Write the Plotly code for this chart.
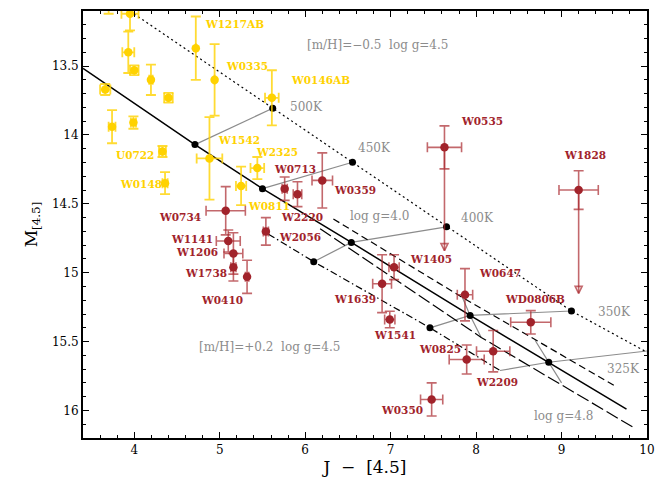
import plotly.graph_objects as go

# ---- observed brown dwarfs: J-[4.5] colour and absolute [4.5] magnitude ----
# warmer sample (gold)
gold_names = ["", "", "", "", "", "", "", "", "", "U0722", "W1217AB", "W0335",
              "W0146AB", "W1542", "W2325", "W0811", "W0148"]
gold_x = [3.70, 3.95, 3.93, 4.00, 4.195, 3.66, 4.40, 3.74, 3.99, 4.33, 4.72, 4.94,
          5.61, 4.88, 5.44, 5.25, 4.36]
gold_y = [12.98, 13.12, 13.40, 13.53, 13.60, 13.67, 13.73, 13.94, 13.91, 14.12, 13.37, 13.60,
          13.73, 14.17, 14.24, 14.37, 14.35]
gold_xerr = [0.00, 0.10, 0.07, 0.05, 0.02, 0.06, 0.05, 0.04, 0.03, 0.04, 0.00, 0.00,
             0.08, 0.15, 0.08, 0.06, 0.03]
gold_yerr = [0.14, 0.12, 0.15, 0.035, 0.11, 0.04, 0.035, 0.12, 0.045, 0.04, 0.23, 0.26,
             0.20, 0.30, 0.08, 0.14, 0.08]

# Y dwarfs and late T (dark red)
red_names = ["W0713", "W2220", "W0359", "W0734", "W1141", "W1206", "W1738", "W0410",
             "W2056", "W0535", "W1405", "W1639", "W0647", "W1828", "WD0806B", "W2209",
             "W1541", "W0825", "W0350"]
red_x = [5.76, 5.91, 6.20, 5.07, 5.10, 5.16, 5.16, 5.32,
         5.54, 7.63, 7.04, 6.90, 7.87, 9.20, 8.64, 8.20,
         6.99, 7.89, 7.48]
red_y = [14.39, 14.43, 14.33, 14.55, 14.77, 14.86, 14.96, 15.03,
         14.70, 14.09, 14.96, 15.08, 15.16, 14.40, 15.36, 15.57,
         15.34, 15.63, 15.92]
red_xerr = [0.03, 0.05, 0.12, 0.23, 0.14, 0.11, 0.03, 0.02,
            0.03, 0.20, 0.06, 0.11, 0.09, 0.23, 0.235, 0.195,
            0.06, 0.205, 0.13]
red_yerr = [0.085, 0.09, 0.20, 0.175, 0.08, 0.15, 0.10, 0.12,
            0.10, 0.156, 0.09, 0.21, 0.19, 0.14, 0.085, 0.15,
            0.06, 0.105, 0.12]
# magnitudes that are upper limits: (name, arrow tip)
limit_names = ["W0535", "W1828"]
limit_tip_y = [14.84, 15.15]

# ---- model sequences ----
# [m/H]=-0.5, log g=4.5
met_lo_x = [3.90, 5.62, 6.554, 7.654, 9.116, 9.99, 10.10]
met_lo_y = [13.08, 13.806, 14.198, 14.667, 15.278, 15.574, 15.63]
# [m/H]=0, log g=4.5
solar_x = [3.40, 4.71, 5.50, 6.54, 7.93, 8.85, 9.76]
solar_y = [13.517, 14.07, 14.39, 14.78, 15.31, 15.65, 15.99]
# [m/H]=+0.2, log g=4.5
met_hi_x = [5.57, 6.10, 7.46, 8.28]
met_hi_y = [14.72, 14.92, 15.40, 15.71]
# log g=4.0 and log g=4.8 at solar metallicity
lowg_x = [6.33, 7.84, 9.62]
lowg_y = [14.61, 15.18, 15.82]
highg_x = [6.175, 8.06, 9.86]
highg_y = [14.68, 15.47, 16.13]

# temperature nodes (black dots)
teff_labels = ["500K", "450K", "400K", "350K", "325K"]
node_x = [5.62, 6.554, 7.654, 9.116, 4.71, 5.50, 6.54, 7.93, 8.85, 6.10, 7.46]
node_y = [13.806, 14.198, 14.667, 15.278, 14.07, 14.39, 14.78, 15.31, 15.65, 14.92, 15.40]

# iso-temperature connectors
iso_metal = [
    ([5.62, 4.71], [13.806, 14.07]),
    ([6.554, 5.50], [14.198, 14.39]),
    ([7.654, 6.54, 6.10], [14.667, 14.78, 14.92]),
    ([9.116, 7.93, 7.46], [15.278, 15.31, 15.40]),
    ([10.05, 8.85, 8.28], [15.565, 15.65, 15.71]),
]
iso_grav = [
    ([7.84, 7.93, 8.06], [15.18, 15.31, 15.47]),
    ([8.69, 8.85, 9.00], [15.49, 15.65, 15.80]),
]

GOLD = "#FFD200"
GOLD_BAR = "rgba(255,210,0,0.8)"
RED = "#A1232B"
RED_BAR = "rgba(170,40,45,0.7)"
GREY = "#8C8C8C"
FONT = "DejaVu Serif"

fig = go.Figure()

for xs, ys in iso_metal + iso_grav:
    fig.add_trace(go.Scatter(x=xs, y=ys, mode="lines",
                             line=dict(color=GREY, width=1.2), hoverinfo="skip"))

fig.add_trace(go.Scatter(x=met_lo_x, y=met_lo_y, mode="lines",
                         line=dict(color="black", width=1.2, dash="2px,3px")))
fig.add_trace(go.Scatter(x=solar_x, y=solar_y, mode="lines",
                         line=dict(color="black", width=1.5)))
fig.add_trace(go.Scatter(x=met_hi_x, y=met_hi_y, mode="lines",
                         line=dict(color="black", width=1.2, dash="7px,3px,1.5px,3px")))
fig.add_trace(go.Scatter(x=lowg_x, y=lowg_y, mode="lines",
                         line=dict(color="black", width=1.2, dash="7px,4px")))
fig.add_trace(go.Scatter(x=highg_x, y=highg_y, mode="lines",
                         line=dict(color="black", width=1.2, dash="13px,4px")))
fig.add_trace(go.Scatter(x=node_x, y=node_y, mode="markers",
                         marker=dict(color="black", size=7)))

fig.add_trace(go.Scatter(
    x=gold_x, y=gold_y, mode="markers",
    marker=dict(color=GOLD, size=8.5),
    error_x=dict(type="data", array=gold_xerr, color=GOLD_BAR, thickness=1.8, width=5),
    error_y=dict(type="data", array=gold_yerr, color=GOLD_BAR, thickness=1.8, width=5),
))
fig.add_trace(go.Scatter(
    x=red_x, y=red_y, mode="markers",
    marker=dict(color=RED, size=8.5),
    error_x=dict(type="data", array=red_xerr, color=RED_BAR, thickness=1.6, width=5),
    error_y=dict(type="data", array=red_yerr, color=RED_BAR, thickness=1.6, width=5),
))

# upper-limit arrows: shaft from the measured point down to the limit
for name, tip in zip(limit_names, limit_tip_y):
    i = red_names.index(name)
    fig.add_trace(go.Scatter(x=[red_x[i], red_x[i]], y=[red_y[i], tip], mode="lines",
                             line=dict(color=RED_BAR, width=1.6), hoverinfo="skip"))
    fig.add_trace(go.Scatter(x=[red_x[i]], y=[tip], mode="markers",
                             marker=dict(symbol="arrow-down-open", size=7, color=RED_BAR,
                                         line=dict(width=1.6, color=RED_BAR)),
                             hoverinfo="skip"))

# object labels (left edge, vertical centre)
gold_label_pos = {
    "W1217AB": (4.807, 13.197), "W0335": (5.053, 13.498), "W0146AB": (5.809, 13.599),
    "W1542": (4.956, 14.039), "U0722": (3.766, 14.147), "W2325": (5.40, 14.126),
    "W0148": (3.813, 14.353), "W0811": (5.306, 14.515),
}
red_label_pos = {
    "W0713": (5.61, 14.245), "W0359": (6.309, 14.398), "W0734": (4.262, 14.594),
    "W2220": (5.692, 14.594), "W1141": (4.406, 14.753), "W2056": (5.665, 14.739),
    "W1206": (4.464, 14.847), "W1738": (4.566, 14.999), "W0410": (4.760, 15.20),
    "W1405": (7.201, 14.898), "W1639": (6.309, 15.193), "W0647": (8.005, 14.999),
    "W0535": (7.798, 13.898), "W1828": (9.002, 14.147), "WD0806B": (8.309, 15.193),
    "W2209": (7.973, 15.792), "W1541": (6.78, 15.451), "W0825": (7.306, 15.552),
    "W0350": (6.862, 15.994),
}
label_font = dict(family=FONT, size=10.5, weight=600)
for name, (lx, ly) in gold_label_pos.items():
    fig.add_annotation(x=lx, y=ly, text=name, showarrow=False, xanchor="left",
                       yanchor="middle", font=dict(label_font, color=GOLD))
for name, (lx, ly) in red_label_pos.items():
    fig.add_annotation(x=lx, y=ly, text=name, showarrow=False, xanchor="left",
                       yanchor="middle", font=dict(label_font, color=RED))

# model annotations
model_text = [
    ("[m/H]=\u22120.5\u00a0 log g=4.5", 5.997, 13.346),
    ("[m/H]=+0.2\u00a0 log g=4.5", 4.737, 15.54),
    ("log g=4.0", 6.50, 14.587),
    ("log g=4.8", 8.66, 16.04),
    (teff_labels[0], 5.798, 13.80),
    (teff_labels[1], 6.60, 14.097),
    (teff_labels[2], 7.798, 14.602),
    (teff_labels[3], 9.40, 15.287),
    (teff_labels[4], 9.506, 15.698),
]
for txt, tx, ty in model_text:
    fig.add_annotation(x=tx, y=ty, text=txt, showarrow=False, xanchor="left",
                       yanchor="middle", font=dict(family=FONT, size=12, color=GREY))

axis_common = dict(showline=True, linecolor="black", linewidth=2, mirror="ticks",
                   ticks="inside", ticklen=6, tickwidth=1.2, tickcolor="black",
                   showgrid=False, zeroline=False,
                   tickfont=dict(family=FONT, size=12, color="black"))
fig.update_xaxes(range=[3.4, 10], tickvals=[4, 5, 6, 7, 8, 9, 10],
                 title=dict(text="J\u00a0 \u2212\u00a0 [4.5]", standoff=4,
                            font=dict(family=FONT, size=17, color="black")),
                 minor=dict(dtick=0.2, ticks="inside", ticklen=3, tickcolor="black", showgrid=False),
                 **axis_common)
fig.update_yaxes(range=[16.2, 13.1], tickvals=[13.5, 14, 14.5, 15, 15.5, 16],
                 ticktext=["13.5", "14", "14.5", "15", "15.5", "16"],
                 title=dict(text="M<sub>[4.5]</sub>", standoff=10,
                            font=dict(family=FONT, size=17, color="black")),
                 minor=dict(dtick=0.1, ticks="inside", ticklen=3, tickcolor="black", showgrid=False),
                 **axis_common)

fig.update_layout(width=670, height=483, margin=dict(l=83, r=23, t=9, b=45),
                  plot_bgcolor="white", paper_bgcolor="white", showlegend=False)

fig.write_html("out.html")
